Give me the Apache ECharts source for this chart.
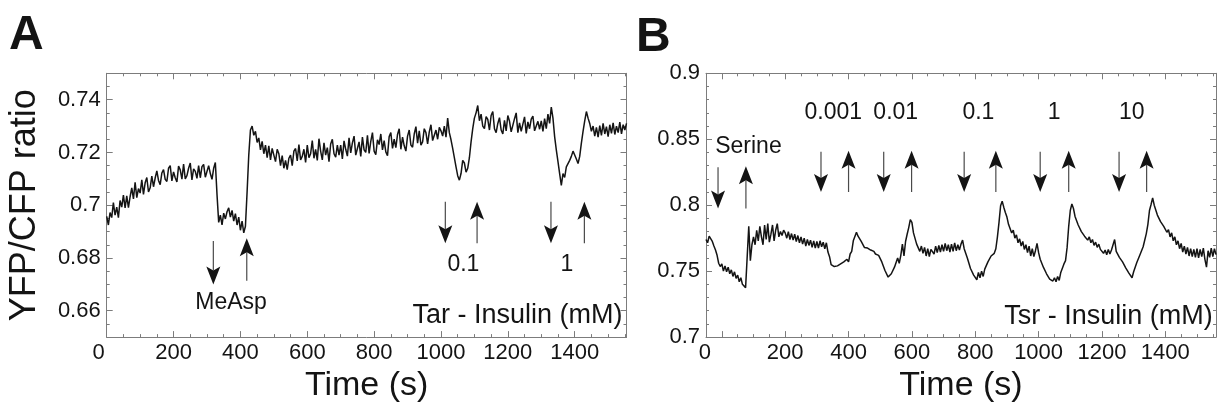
<!DOCTYPE html>
<html>
<head>
<meta charset="utf-8">
<script src="https://cdn.jsdelivr.net/npm/echarts@6/dist/echarts.min.js"></script>
<style>
  html, body { margin: 0; padding: 0; background: #ffffff; }
  #chart { width: 1218px; height: 408px; }
</style>
</head>
<body>
<div id="chart"></div>
<script>
// ---------------------------------------------------------------
// FRET response (YFP/CFP ratio) of receptor-expressing cells to
// step additions (down arrow) and removals (up arrow) of stimulus.
// Traces are sampled every 5 s.
// ---------------------------------------------------------------

// Panel A: Tar receptor, MeAsp control then insulin steps
const tarStart = 0;
const tarStep = 5;
const tarRatio = [
  0.6958,0.6925,0.6972,0.6953,0.7010,0.6962,0.6993,0.6953,0.7018,0.6993,0.7038,0.6990,0.7035,0.6991,0.7032,0.7066,0.7024,0.7087,0.7029,0.7063,
  0.7046,0.7096,0.7041,0.7085,0.7105,0.7050,0.7066,0.7110,0.7070,0.7103,0.7130,0.7094,0.7078,0.7122,0.7135,0.7098,0.7090,0.7140,0.7150,0.7092,
  0.7126,0.7104,0.7088,0.7148,0.7134,0.7099,0.7156,0.7100,0.7112,0.7140,0.7160,0.7096,0.7138,0.7128,0.7102,0.7150,0.7104,0.7146,0.7155,0.7106,
  0.7112,0.7150,0.7120,0.7098,0.7140,0.7162,0.7040,0.6935,0.6962,0.6925,0.6970,0.6948,0.6975,0.6990,0.6955,0.6980,0.6940,0.6968,0.6925,0.6955,
  0.6905,0.6940,0.6895,0.6920,0.7050,0.7190,0.7285,0.7300,0.7265,0.7280,0.7238,0.7255,0.7210,0.7242,0.7195,0.7228,0.7180,0.7225,0.7172,0.7215,
  0.7190,0.7165,0.7212,0.7195,0.7150,0.7188,0.7140,0.7170,0.7135,0.7178,0.7190,0.7150,0.7205,0.7215,0.7168,0.7230,0.7172,0.7185,0.7212,0.7162,
  0.7228,0.7180,0.7195,0.7245,0.7178,0.7212,0.7170,0.7252,0.7205,0.7172,0.7236,0.7190,0.7218,0.7165,0.7232,0.7250,0.7195,0.7182,0.7228,0.7190,
  0.7228,0.7175,0.7244,0.7212,0.7186,0.7255,0.7198,0.7236,0.7262,0.7190,0.7215,0.7240,0.7185,0.7258,0.7210,0.7200,0.7265,0.7196,0.7242,0.7275,
  0.7205,0.7192,0.7248,0.7230,0.7270,0.7210,0.7245,0.7202,0.7188,0.7260,0.7275,0.7215,0.7250,0.7218,0.7268,0.7290,0.7212,0.7258,0.7225,0.7205,
  0.7262,0.7285,0.7228,0.7220,0.7270,0.7298,0.7235,0.7282,0.7228,0.7240,0.7290,0.7275,0.7232,0.7278,0.7305,0.7245,0.7240,0.7285,0.7250,0.7295,
  0.7282,0.7262,0.7300,0.7258,0.7330,0.7275,0.7248,0.7215,0.7180,0.7145,0.7112,0.7095,0.7120,0.7170,0.7160,0.7125,0.7140,0.7180,0.7240,0.7290,
  0.7330,0.7350,0.7378,0.7320,0.7345,0.7300,0.7290,0.7336,0.7325,0.7285,0.7340,0.7355,0.7290,0.7275,0.7310,0.7332,0.7285,0.7270,0.7322,0.7282,
  0.7340,0.7318,0.7278,0.7285,0.7328,0.7350,0.7275,0.7312,0.7280,0.7286,0.7335,0.7272,0.7316,0.7290,0.7326,0.7338,0.7282,0.7276,0.7318,0.7288,
  0.7320,0.7280,0.7328,0.7290,0.7345,0.7310,0.7372,0.7330,0.7260,0.7210,0.7165,0.7120,0.7075,0.7120,0.7105,0.7145,0.7140,0.7170,0.7185,0.7205,
  0.7190,0.7175,0.7158,0.7185,0.7235,0.7280,0.7320,0.7355,0.7330,0.7310,0.7280,0.7300,0.7262,0.7295,0.7258,0.7302,0.7265,0.7310,0.7270,0.7298,
  0.7260,0.7305,0.7272,0.7312,0.7268,0.7300,0.7275,0.7315,0.7270,0.7305,0.7285,0.7310
];

// Panel B: Tsr receptor, serine control then insulin steps
const tsrStart = -50;
const tsrStep = 5;
const tsrRatio = [
  0.7740,0.7715,0.7765,0.7780,0.7725,0.7690,0.7660,0.7620,0.7560,0.7535,
  0.7555,0.7500,0.7540,0.7495,0.7530,0.7480,0.7510,0.7460,0.7495,0.7445,0.7470,0.7420,0.7450,0.7400,0.7405,0.7375,0.7380,0.7840,0.7580,0.7700,
  0.7760,0.7700,0.7810,0.7730,0.7840,0.7760,0.7700,0.7850,0.7740,0.7860,0.7720,0.7780,0.7850,0.7730,0.7810,0.7860,0.7760,0.7800,0.7770,0.7810,
  0.7790,0.7750,0.7800,0.7740,0.7785,0.7735,0.7780,0.7725,0.7770,0.7715,0.7760,0.7705,0.7750,0.7690,0.7740,0.7695,0.7735,0.7680,0.7730,0.7675,
  0.7725,0.7675,0.7730,0.7685,0.7720,0.7670,0.7715,0.7645,0.7610,0.7550,0.7535,0.7535,0.7525,0.7540,0.7535,0.7555,0.7550,0.7570,0.7565,0.7590,
  0.7570,0.7630,0.7650,0.7730,0.7735,0.7795,0.7765,0.7770,0.7725,0.7710,0.7680,0.7680,0.7675,0.7660,0.7660,0.7645,0.7650,0.7630,0.7635,0.7620,
  0.7635,0.7570,0.7555,0.7505,0.7500,0.7455,0.7440,0.7480,0.7480,0.7530,0.7535,0.7600,0.7560,0.7620,0.7705,0.7615,0.7725,0.7780,0.7830,0.7890,
  0.7870,0.7790,0.7775,0.7705,0.7705,0.7650,0.7690,0.7635,0.7680,0.7615,0.7670,0.7610,0.7665,0.7655,0.7630,0.7690,0.7640,0.7695,0.7645,0.7700,
  0.7650,0.7710,0.7655,0.7700,0.7645,0.7705,0.7650,0.7715,0.7655,0.7700,0.7660,0.7705,0.7735,0.7670,0.7660,0.7600,0.7585,0.7520,0.7515,0.7470,
  0.7470,0.7435,0.7490,0.7450,0.7500,0.7460,0.7515,0.7520,0.7570,0.7570,0.7615,0.7620,0.7635,0.7670,0.7760,0.7870,0.7995,0.8030,0.7985,0.7945,
  0.7910,0.7855,0.7860,0.7790,0.7810,0.7750,0.7775,0.7715,0.7745,0.7690,0.7725,0.7665,0.7700,0.7640,0.7690,0.7615,0.7670,0.7610,0.7655,0.7710,
  0.7640,0.7590,0.7585,0.7530,0.7535,0.7480,0.7495,0.7440,0.7455,0.7425,0.7450,0.7420,0.7460,0.7430,0.7490,0.7500,0.7555,0.7580,0.7680,0.7840,
  0.7960,0.8010,0.7975,0.7915,0.7900,0.7850,0.7845,0.7800,0.7810,0.7765,0.7775,0.7735,0.7760,0.7715,0.7740,0.7695,0.7720,0.7680,0.7705,0.7665,
  0.7665,0.7635,0.7660,0.7625,0.7665,0.7630,0.7660,0.7650,0.7740,0.7650,0.7655,0.7605,0.7615,0.7570,0.7575,0.7525,0.7530,0.7485,0.7490,0.7450,
  0.7495,0.7500,0.7565,0.7560,0.7625,0.7630,0.7685,0.7695,0.7785,0.7855,0.7960,0.8005,0.8055,0.8000,0.7985,0.7925,0.7935,0.7875,0.7885,0.7840,
  0.7845,0.7795,0.7815,0.7760,0.7790,0.7730,0.7760,0.7700,0.7730,0.7670,0.7710,0.7645,0.7690,0.7630,0.7680,0.7615,0.7670,0.7610,0.7665,0.7605,
  0.7670,0.7600,0.7665,0.7610,0.7675,0.7590,0.7530,0.7655,0.7605,0.7675,0.7610,0.7670,0.7625
];

// Axis ranges and tick labels
const tarTimeRange = [0, 1555];
const tsrTimeRange = [-50, 1560];
const timeTicks = [0, 200, 400, 600, 800, 1000, 1200, 1400];
const tarRatioRange = [0.65, 0.75];
const tarRatioTicks = [0.66, 0.68, 0.7, 0.72, 0.74];
const tsrRatioRange = [0.7, 0.9];
const tsrRatioTicks = [0.7, 0.75, 0.8, 0.85, 0.9];

// Stimulus arrows: [time (s), tail ratio, tip ratio]
const tarArrows = [
  [319, 0.6864, 0.6699], [419, 0.6714, 0.6875],
  [1013, 0.7013, 0.6856], [1108, 0.6856, 0.7013],
  [1329, 0.7013, 0.6856], [1429, 0.6856, 0.7013]
];
const tsrArrows = [
  [-12, 0.8288, 0.7975], [76, 0.7975, 0.8295],
  [313, 0.8405, 0.8100], [400, 0.8100, 0.8412],
  [511, 0.8405, 0.8100], [599, 0.8100, 0.8412],
  [765, 0.8405, 0.8100], [865, 0.8100, 0.8412],
  [1005, 0.8405, 0.8100], [1095, 0.8100, 0.8412],
  [1254, 0.8405, 0.8100], [1341, 0.8100, 0.8412]
];

// Stimulus labels: [time (s), ratio] with their texts
const tarStimLabels = ['MeAsp', '0.1', '1'];
const tarStimPos = [[372, 0.6631], [1067, 0.6775], [1377, 0.6775]];
const tsrStimLabels = ['Serine', '0.001', '0.01', '0.1', '1', '10'];
const tsrStimPos = [[84, 0.8447], [352, 0.8702], [549, 0.8702], [810, 0.8702], [1049, 0.8702], [1294, 0.8702]];

// Panel captions, right-aligned at [time, ratio]
const tarCaption = ['Tar - Insulin (mM)'];
const tarCaptionPos = [[1543, 0.6582]];
const tsrCaption = ['Tsr - Insulin (mM)'];
const tsrCaptionPos = [[1550, 0.7157]];

// ---------------------------------------------------------------
const FONT = '"Liberation Sans", Arial, Helvetica, sans-serif';
const INK = '#141414';
const FRAME = '#7c7c7c';

function toPairs(start, step, values) {
  return values.map((v, i) => [start + i * step, v]);
}

function fmtNum(v) {
  return String(+v.toFixed(4));
}

// Four x axes per grid: bottom (major + minor) and top (major + minor)
function xAxesFor(grid, range, majors, minorStep, zeroShift) {
  const base = { gridIndex: grid, type: 'value', min: range[0], max: range[1],
                 splitLine: { show: false }, axisPointer: { show: false } };
  const frameLine = { show: true, onZero: false, lineStyle: { color: FRAME, width: 1 } };
  const noLine = { show: false, onZero: false };
  const majorTick = { show: true, inside: true, length: 6, customValues: majors,
                      lineStyle: { color: FRAME, width: 1 } };
  const minorTick = { show: true, inside: true, length: 3, lineStyle: { color: FRAME, width: 1 } };
  return [
    Object.assign({}, base, {
      position: 'bottom', axisLine: frameLine, axisTick: majorTick,
      axisLabel: {
        show: true, customValues: majors, margin: 5, color: INK, fontFamily: FONT, fontSize: 22,
        formatter: v => (v === 0 ? '{z|0}' : fmtNum(v)),
        rich: { z: { fontFamily: FONT, fontSize: 22, color: INK, padding: [0, zeroShift * 2, 0, 0] } }
      },
      name: 'Time (s)', nameLocation: 'middle', nameGap: 31,
      nameTextStyle: { fontFamily: FONT, fontSize: 34, color: INK }
    }),
    Object.assign({}, base, { position: 'bottom', interval: minorStep, axisLine: noLine,
      axisTick: minorTick, axisLabel: { show: false } }),
    Object.assign({}, base, { position: 'top', axisLine: frameLine, axisTick: majorTick,
      axisLabel: { show: false } }),
    Object.assign({}, base, { position: 'top', interval: minorStep, axisLine: noLine,
      axisTick: minorTick, axisLabel: { show: false } })
  ];
}

// Four y axes per grid: left (major + minor) and right (major + minor)
function yAxesFor(grid, range, majors, minorStep, title) {
  const base = { gridIndex: grid, type: 'value', min: range[0], max: range[1],
                 splitLine: { show: false }, axisPointer: { show: false } };
  const frameLine = { show: true, onZero: false, lineStyle: { color: FRAME, width: 1 } };
  const noLine = { show: false, onZero: false };
  const majorTick = { show: true, inside: true, length: 6, customValues: majors,
                      lineStyle: { color: FRAME, width: 1 } };
  const minorTick = { show: true, inside: true, length: 3, lineStyle: { color: FRAME, width: 1 } };
  const left = Object.assign({}, base, {
    position: 'left', axisLine: frameLine, axisTick: majorTick,
    axisLabel: { show: true, customValues: majors, margin: 6, color: INK, fontFamily: FONT,
                 fontSize: 22, formatter: v => fmtNum(v) }
  });
  if (title) {
    Object.assign(left, { name: title, nameLocation: 'middle', nameGap: 64,
      nameTextStyle: { fontFamily: FONT, fontSize: 36, color: INK } });
  }
  return [
    left,
    Object.assign({}, base, { position: 'left', interval: minorStep, axisLine: noLine,
      axisTick: minorTick, axisLabel: { show: false } }),
    Object.assign({}, base, { position: 'right', axisLine: frameLine, axisTick: majorTick,
      axisLabel: { show: false } }),
    Object.assign({}, base, { position: 'right', interval: minorStep, axisLine: noLine,
      axisTick: minorTick, axisLabel: { show: false } })
  ];
}

// Vertical stimulus arrow: thin shaft, filled notched head at the tip
function renderArrow(params, api) {
  const t = api.value(0);
  const tail = api.coord([t, api.value(1)]);
  const tip = api.coord([t, api.value(2)]);
  const dir = tip[1] > tail[1] ? 1 : -1;
  const headLen = 18, halfW = 7, notch = 4;
  const back = tip[1] - dir * headLen;
  return {
    type: 'group',
    children: [
      { type: 'line', shape: { x1: tail[0], y1: tail[1], x2: tail[0], y2: back + dir * notch },
        style: { stroke: '#4a4a4a', lineWidth: 1.2 } },
      { type: 'polygon',
        shape: { points: [[tip[0], tip[1]], [tip[0] - halfW, back], [tip[0], back + dir * notch], [tip[0] + halfW, back]] },
        style: { fill: INK } }
    ]
  };
}

function arrowSeries(grid, arrows) {
  return {
    type: 'custom', coordinateSystem: 'cartesian2d',
    xAxisIndex: grid * 4, yAxisIndex: grid * 4, silent: true,
    data: arrows, renderItem: renderArrow, z: 5
  };
}

function textSeries(grid, texts, positions, fontSize, align) {
  return {
    type: 'custom', coordinateSystem: 'cartesian2d',
    xAxisIndex: grid * 4, yAxisIndex: grid * 4, silent: true, clip: false,
    data: positions,
    renderItem: (params, api) => {
      const p = api.coord([api.value(0), api.value(1)]);
      return { type: 'text', x: p[0], y: p[1],
               style: { text: texts[params.dataIndex], fontFamily: FONT, fontSize: fontSize,
                        fill: INK, align: align, verticalAlign: 'middle' } };
    },
    z: 6
  };
}

function traceSeries(grid, start, step, values) {
  return {
    type: 'line', xAxisIndex: grid * 4, yAxisIndex: grid * 4,
    data: toPairs(start, step, values), showSymbol: false, symbol: 'none',
    silent: true, clip: true,
    lineStyle: { color: INK, width: 1.5, join: 'bevel' }, z: 4
  };
}

const chart = echarts.init(document.getElementById('chart'), null, { renderer: 'canvas' });

chart.setOption({
  backgroundColor: '#ffffff',
  animation: false,
  grid: [
    { left: 106.7, top: 73.3, width: 519.8, height: 266.7 },
    { left: 706, top: 73.3, width: 510, height: 266.7 }
  ],
  xAxis: [].concat(
    xAxesFor(0, tarTimeRange, timeTicks, 50, 8),
    xAxesFor(1, tsrTimeRange, timeTicks, 50, 17)
  ),
  yAxis: [].concat(
    yAxesFor(0, tarRatioRange, tarRatioTicks, 0.005, 'YFP/CFP ratio'),
    yAxesFor(1, tsrRatioRange, tsrRatioTicks, 0.01, null)
  ),
  graphic: [
    { type: 'text', left: 9, top: 12,
      style: { text: 'A', fontFamily: FONT, fontSize: 48, fontWeight: 'bold', fill: INK } },
    { type: 'text', left: 636, top: 14,
      style: { text: 'B', fontFamily: FONT, fontSize: 48, fontWeight: 'bold', fill: INK } }
  ],
  series: [
    traceSeries(0, tarStart, tarStep, tarRatio),
    traceSeries(1, tsrStart, tsrStep, tsrRatio),
    arrowSeries(0, tarArrows),
    arrowSeries(1, tsrArrows),
    textSeries(0, tarStimLabels, tarStimPos, 23, 'center'),
    textSeries(1, tsrStimLabels, tsrStimPos, 23, 'center'),
    textSeries(0, tarCaption, tarCaptionPos, 27, 'right'),
    textSeries(1, tsrCaption, tsrCaptionPos, 27, 'right')
  ]
});
</script>
</body>
</html>
